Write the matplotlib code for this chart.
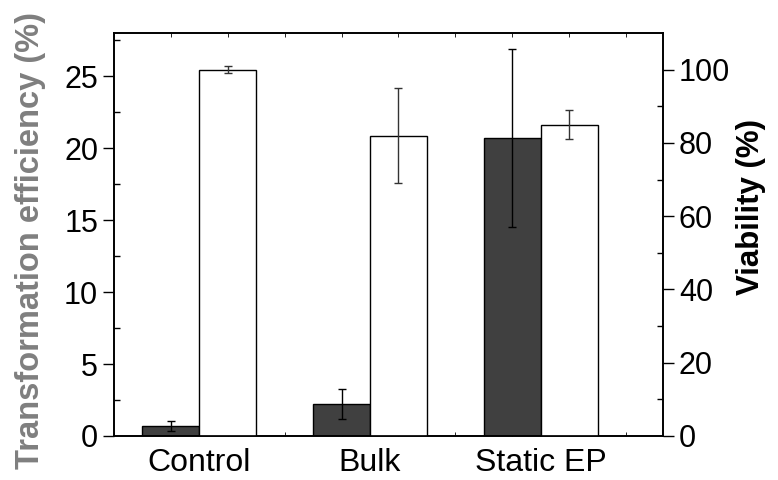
import matplotlib
matplotlib.use("Agg")
import matplotlib.pyplot as plt
import numpy as np

plt.rcParams['font.family'] = ['Liberation Sans', 'DejaVu Sans']

groups = ["Control", "Bulk", "Static EP"]
# transformation efficiency (%), left axis
eff = [0.7, 2.25, 20.7]
eff_err = [0.37, 1.05, 6.2]
# viability (%), right axis
via = [100.0, 82.0, 85.0]
via_err = [1.0, 13.0, 4.0]

x = np.arange(1, len(groups) + 1)
w = 1 / 3

fig = plt.figure(figsize=(7.78, 4.8), dpi=100)
ax = fig.add_axes([0.1465, 0.0917, 0.7055, 0.8393])
ax2 = ax.twinx()

ax.bar(x - w / 2, eff, w, color='#404040', edgecolor='black', linewidth=1.0,
       yerr=eff_err, capsize=3, error_kw=dict(elinewidth=1.0, capthick=1.0, ecolor='black'), zorder=2)
ax2.bar(x + w / 2, via, w, color='white', edgecolor='black', linewidth=1.0,
        yerr=via_err, capsize=3, error_kw=dict(elinewidth=1.0, capthick=1.0, ecolor='#333333'), zorder=2)

ax.set_xlim(0.5, 3.716)
ax.set_ylim(0, 28)
ax2.set_ylim(0, 110)

ax.set_xticks(x)
ax.set_xticklabels(groups, fontsize=23)
ax.tick_params(axis='x', which='major', length=0, pad=9)
ax.set_xticks(0.5 + np.arange(10) / 3, minor=True)
ax.tick_params(axis='x', which='minor', direction='in', length=3, top=True, bottom=True)

ax.set_yticks(np.arange(0, 26, 5))
ax.set_yticks(np.arange(2.5, 28, 5), minor=True)
ax.tick_params(axis='y', which='major', direction='out', length=8, width=1, labelsize=22)
ax.tick_params(axis='y', which='minor', direction='in', length=4, width=1)

ax2.set_yticks(np.arange(0, 101, 20))
ax2.set_yticks(np.arange(10, 110, 20), minor=True)
ax2.tick_params(axis='y', which='major', direction='out', length=8, width=1, labelsize=22)
ax2.tick_params(axis='y', which='minor', direction='in', length=4, width=1)

ax.set_ylabel("Transformation efficiency (%)", fontsize=23.5, fontweight='bold', color='#7f7f7f', labelpad=13)
ax2.set_ylabel("Viability (%)", fontsize=22.5, fontweight='bold', color='black', labelpad=4)
ax.yaxis.label.set_y(0.486)
ax2.yaxis.label.set_y(0.568)

for a in (ax, ax2):
    for s in a.spines.values():
        s.set_linewidth(1.2)

fig.savefig("out.png", dpi=100)
